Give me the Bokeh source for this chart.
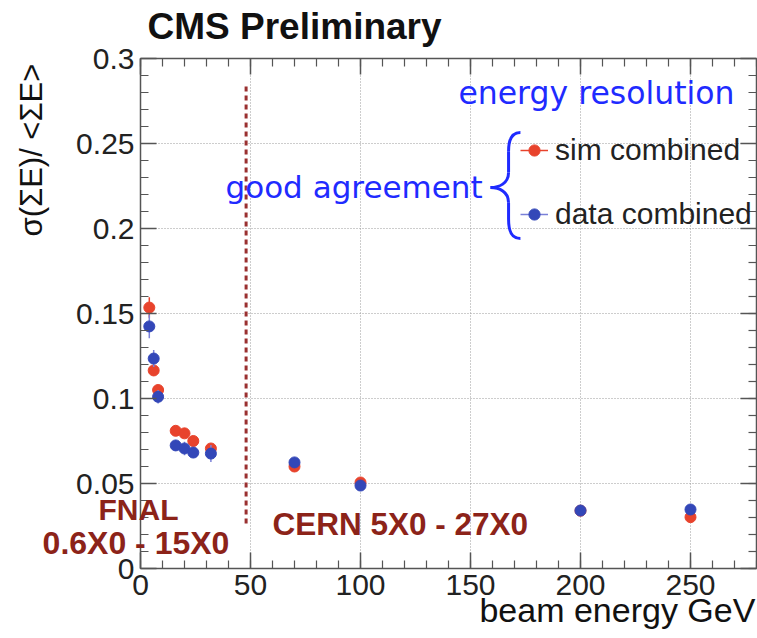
import math
from bokeh.plotting import figure
from bokeh.models import (Range1d, FixedTicker, NumeralTickFormatter,
                          Label, Legend, LegendItem, ColumnDataSource)
from bokeh.embed import file_html
from bokeh.resources import INLINE

# ---------------- data ----------------
beam_energy = [4, 6, 8, 16, 20, 24, 32, 70, 100, 200, 250]
sim_res = [0.1535, 0.1165, 0.1050, 0.0810, 0.0795, 0.0750, 0.0706, 0.0600, 0.0506, 0.0340, 0.0302]
sim_err = [0.006, 0.003, 0.003, 0.002, 0.002, 0.002, 0.002, 0.001, 0.001, 0.001, 0.001]
data_res = [0.1424, 0.1235, 0.1010, 0.0724, 0.0706, 0.0682, 0.0676, 0.0624, 0.0488, 0.0341, 0.0347]
data_err = [0.007, 0.005, 0.004, 0.003, 0.004, 0.003, 0.005, 0.001, 0.001, 0.001, 0.001]
boundary_energy = [48]
boundary_low = [0.0265]
boundary_high = [0.284]
x_ticks = [0, 50, 100, 150, 200, 250]
y_ticks = [0, 0.05, 0.1, 0.15, 0.2, 0.25, 0.3]
x_minor = list(range(0, 281, 10))
y_minor = [round(i * 0.01, 2) for i in range(0, 31)]

RED = "#e8432c"
BLUE = "#3347b8"
BLUE_LINE = "#7a80d8"
DARKRED = "#8c2319"
HAND = "#1f2bff"
AX = "#555555"
FONT = "Liberation Sans"

# plotted region of the axes
X0, X1, Y0, Y1 = 0, 280, 0, 0.3
# pixel layout: x=0 at 140 px, 2.2 px/GeV ; y=0 at 568 px, 1700 px per unit
W, H = 757, 638
PX_X, PX_Y = 2.2, 1700.0
view_x = Range1d(-140 / PX_X, (W - 140) / PX_X)
view_y = Range1d(-(H - 568) / PX_Y, 568 / PX_Y)

p = figure(width=W, height=H, output_backend="svg", toolbar_location=None,
           x_range=view_x, y_range=view_y,
           min_border=0, min_border_left=0, min_border_right=0,
           min_border_top=0, min_border_bottom=0)
p.outline_line_color = None
p.background_fill_color = "white"
p.border_fill_color = "white"
p.xgrid.visible = False
p.ygrid.visible = False

def style_axis(ax, ticker, standoff, bounds):
    ax.ticker = ticker
    ax.fixed_location = 0
    ax.bounds = bounds
    ax.axis_line_color = AX
    ax.axis_line_width = 1.5
    ax.major_tick_line_color = AX
    ax.minor_tick_line_color = AX
    ax.major_tick_line_width = 1.5
    ax.minor_tick_line_width = 1.2
    ax.major_tick_in = 16
    ax.major_tick_out = 0
    ax.minor_tick_in = 8
    ax.minor_tick_out = 0
    ax.major_label_text_font = FONT
    ax.major_label_text_font_size = "30px"
    ax.major_label_text_color = "#222222"
    ax.major_label_standoff = standoff

style_axis(p.xaxis[0], FixedTicker(ticks=x_ticks, minor_ticks=x_minor), 6, (X0, X1))
style_axis(p.yaxis[0], FixedTicker(ticks=y_ticks, minor_ticks=y_minor), 6, (Y0, Y1))
p.yaxis[0].formatter = NumeralTickFormatter(format="0.[00]")

# dotted grid at the major ticks, inside the axes box only
grid_style = dict(line_color="#9a9a9a", line_width=1, line_dash="1 2")
gx = [t for t in x_ticks if t > X0]
gy = [t for t in y_ticks if Y0 < t < Y1]
p.segment(x0=gx, y0=[Y0] * len(gx), x1=gx, y1=[Y1] * len(gx), **grid_style)
p.segment(x0=[X0] * len(gy), y0=gy, x1=[X1] * len(gy), y1=gy, **grid_style)

# top and right frame edges with mirrored ticks (ROOT style)
p.segment(x0=[X0, X1], y0=[Y1, Y0], x1=[X1, X1], y1=[Y1, Y1], line_color=AX, line_width=1.5)
maj_y_len, min_y_len = 16 / PX_Y, 8 / PX_Y
maj_x_len, min_x_len = 16 / PX_X, 8 / PX_X
p.segment(x0=x_ticks, y0=[Y1] * len(x_ticks), x1=x_ticks, y1=[Y1 - maj_y_len] * len(x_ticks), line_color=AX, line_width=1.5)
p.segment(x0=x_minor, y0=[Y1] * len(x_minor), x1=x_minor, y1=[Y1 - min_y_len] * len(x_minor), line_color=AX, line_width=1.2)
p.segment(x0=[X1] * len(y_ticks), y0=y_ticks, x1=[X1 - maj_x_len] * len(y_ticks), y1=y_ticks, line_color=AX, line_width=1.5)
p.segment(x0=[X1] * len(y_minor), y0=y_minor, x1=[X1 - min_x_len] * len(y_minor), y1=y_minor, line_color=AX, line_width=1.2)

# boundary dashed line
p.segment(x0=boundary_energy, y0=boundary_low, x1=boundary_energy, y1=boundary_high,
          line_color="#9a3030", line_width=3, line_dash="5 4")

sim_src = ColumnDataSource(dict(x=beam_energy, y=sim_res,
                                lo=[v - e for v, e in zip(sim_res, sim_err)],
                                hi=[v + e for v, e in zip(sim_res, sim_err)]))
data_src = ColumnDataSource(dict(x=beam_energy, y=data_res,
                                 lo=[v - e for v, e in zip(data_res, data_err)],
                                 hi=[v + e for v, e in zip(data_res, data_err)]))
sim_eb = p.segment(x0="x", y0="lo", x1="x", y1="hi", source=sim_src, line_color=RED, line_width=1.5)
sim_pt = p.scatter("x", "y", source=sim_src, size=11, fill_color=RED, line_color=RED)
data_eb = p.segment(x0="x", y0="lo", x1="x", y1="hi", source=data_src, line_color=BLUE_LINE, line_width=1.5)
data_pt = p.scatter("x", "y", source=data_src, size=11, fill_color=BLUE, line_color=BLUE)

legend = Legend(items=[LegendItem(label="sim combined", renderers=[sim_eb, sim_pt]),
                       LegendItem(label="data combined", renderers=[data_eb, data_pt])],
                location=(520, 407), orientation="vertical",
                background_fill_alpha=0, border_line_alpha=0,
                padding=0, margin=0, spacing=30,
                glyph_width=28, glyph_height=34, label_height=34, label_standoff=7,
                label_text_font=FONT, label_text_font_size="30px", label_text_color="#222222")
p.add_layout(legend, "center")

# brace (annotation decoration)
bl = dict(line_color=HAND, line_width=3)
p.bezier(x0=[172.7], y0=[0.2565], x1=[167.3], y1=[0.2455], cx0=[168.5], cy0=[0.2565], cx1=[167.3], cy1=[0.252], **bl)
p.segment(x0=[167.3], y0=[0.2455], x1=[167.3], y1=[0.233], **bl)
p.bezier(x0=[167.3], y0=[0.233], x1=[159.1], y1=[0.2241], cx0=[167.3], cy0=[0.2265], cx1=[163.0], cy1=[0.2241], **bl)
p.bezier(x0=[159.1], y0=[0.2241], x1=[167.3], y1=[0.2152], cx0=[163.0], cy0=[0.2241], cx1=[167.3], cy1=[0.2217], **bl)
p.segment(x0=[167.3], y0=[0.2152], x1=[167.3], y1=[0.2056], **bl)
p.bezier(x0=[167.3], y0=[0.2056], x1=[172.7], y1=[0.1941], cx0=[167.3], cy0=[0.1985], cx1=[168.5], cy1=[0.1941], **bl)

def lab(x, y, text, size, color, font=FONT, style="normal", align="left",
        baseline="alphabetic", angle=0):
    p.add_layout(Label(x=x, y=y, text=text, text_font=font, text_font_size=size,
                       text_color=color, text_font_style=style, text_align=align,
                       text_baseline=baseline, angle=angle))

lab(144.5, 0.2795, "energy resolution", "31.5px", HAND, font="DejaVu Sans")
lab(155.5, 0.2246, "good agreement", "31px", HAND, font="DejaVu Sans", align="right")
lab(60.0, 0.0262, "CERN 5X0 - 27X0", "31.5px", DARKRED, style="bold")
lab(3.2, 0.3186, "CMS Preliminary", "37px", "#111111", style="bold")
lab(-19.1, 0.0350, "FNAL", "30px", DARKRED, style="bold")
lab(-44.5, 0.0152, "0.6X0 - 15X0", "32px", DARKRED, style="bold")
lab(279.5, -0.0245, "beam energy GeV", "34px", "#111111", align="right")
lab(-49.5, 0.297, "σ(ΣE)/ <ΣE>", "31px", "#111111", align="right", baseline="middle",
    angle=math.pi / 2)

open("out.html", "w").write(file_html(p, INLINE))
